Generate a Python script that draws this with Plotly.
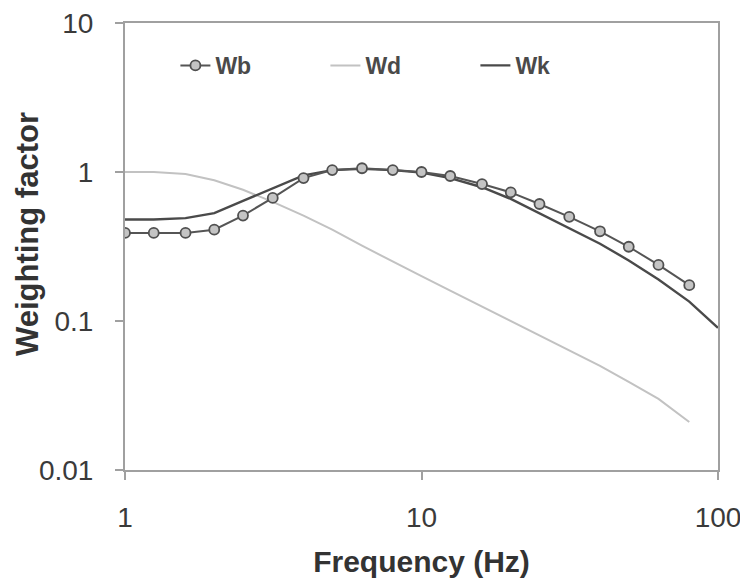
import plotly.graph_objects as go

freq = [1, 1.25, 1.6, 2, 2.5, 3.15, 4, 5, 6.3, 8, 10, 12.5, 16, 20, 25, 31.5, 40, 50, 63, 80]
freq_k = freq + [100]

wb = [0.39, 0.39, 0.39, 0.41, 0.51, 0.67, 0.91, 1.03, 1.06, 1.03, 1.0, 0.94, 0.83, 0.73, 0.61, 0.50, 0.40, 0.315, 0.238, 0.174]
wd = [1.0, 1.0, 0.97, 0.88, 0.76, 0.63, 0.51, 0.41, 0.32, 0.25, 0.20, 0.16, 0.125, 0.10, 0.08, 0.063, 0.050, 0.039, 0.030, 0.021]
wk = [0.48, 0.48, 0.49, 0.53, 0.64, 0.78, 0.95, 1.03, 1.05, 1.03, 0.99, 0.91, 0.79, 0.66, 0.53, 0.42, 0.33, 0.255, 0.19, 0.135, 0.09]

fig = go.Figure()
fig.add_trace(go.Scatter(x=freq, y=wd, name="<b>Wd</b>", mode="lines",
                         line=dict(color="#c2c2c2", width=2), legendrank=2))
fig.add_trace(go.Scatter(x=freq_k, y=wk, name="<b>Wk</b>", mode="lines",
                         line=dict(color="#4a4a4a", width=2.4), legendrank=3))
fig.add_trace(go.Scatter(x=freq, y=wb, name="<b>Wb</b>", mode="lines+markers",
                         line=dict(color="#555555", width=2),
                         marker=dict(symbol="circle", size=10, color="#c4c4c4",
                                     line=dict(color="#505050", width=1.8)),
                         legendrank=1))

axis_common = dict(type="log", showgrid=False, zeroline=False, showline=True,
                   linecolor="#a0a0a0", linewidth=2, mirror=True,
                   ticks="outside", ticklen=8, tickcolor="#a0a0a0", tickwidth=1.5,
                   automargin=False, ticklabeloverflow="allow",
                   tickfont=dict(size=28, color="#3a3a3a"))

fig.update_xaxes(range=[0, 2], tickvals=[1, 10, 100], ticktext=["1", "10", "100"],
                 ticklabelstandoff=13,
                 title=dict(text="<b>Frequency (Hz)</b>", font=dict(size=30, color="#333333"), standoff=19),
                 **axis_common)
fig.update_yaxes(range=[-2, 1], tickvals=[0.01, 0.1, 1, 10], ticktext=["0.01", "0.1", "1", "10"],
                 ticklabelstandoff=16,
                 **axis_common)

fig.add_annotation(text="<b>Weighting factor</b>", textangle=-90,
                   xref="paper", yref="paper", x=(27 - 125) / 593, y=(470 - 234) / 447,
                   xanchor="center", yanchor="middle", showarrow=False,
                   font=dict(size=31, color="#333333"))

fig.update_layout(
    width=740, height=572,
    margin=dict(l=117, r=30, t=15, b=110),
    paper_bgcolor="white", plot_bgcolor="white",
    font=dict(family="Liberation Sans, Arial, sans-serif", color="#333333"),
    showlegend=True,
    legend=dict(orientation="h", x=0.085, y=0.905, xanchor="left", yanchor="middle",
                entrywidth=105, entrywidthmode="pixels", traceorder="normal",
                font=dict(size=23, color="#4a4a4a"), bgcolor="rgba(0,0,0,0)"),
)

fig.write_html("out.html")
